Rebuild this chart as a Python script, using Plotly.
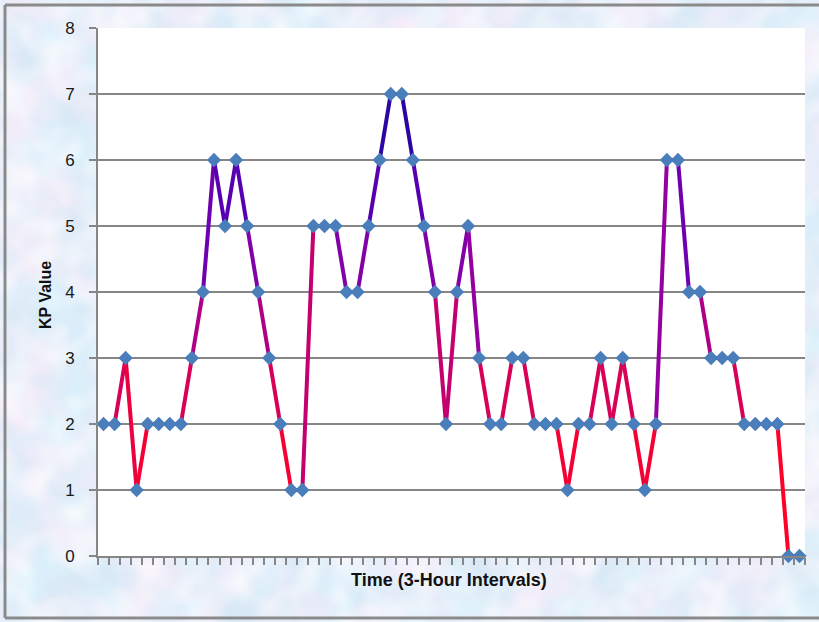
import plotly.graph_objects as go
from urllib.parse import quote

# ---- data ----
kp_values = [2, 2, 3, 1, 2, 2, 2, 2, 3, 4, 6, 5, 6, 5, 4, 3, 2, 1, 1, 5,
             5, 5, 4, 4, 5, 6, 7, 7, 6, 5, 4, 2, 4, 5, 3, 2, 2, 3, 3, 2,
             2, 2, 1, 2, 2, 3, 2, 3, 2, 1, 2, 6, 6, 4, 4, 3, 3, 3, 2, 2,
             2, 2, 0, 0]
time_index = list(range(len(kp_values)))
y_ticks = [0, 1, 2, 3, 4, 5, 6, 7, 8]
x_title = "Time (3-Hour Intervals)"
y_title = "KP Value"

# colour stops for the value-dependent line colour
stops = [(0, (255, 90, 0)), (1, (255, 0, 40)), (2, (236, 0, 64)),
         (3, (196, 0, 110)), (4, (150, 0, 160)), (5, (110, 0, 176)),
         (6, (64, 0, 180)), (7, (26, 10, 144)), (8, (20, 10, 120))]


def color_for(v):
    for (a, ca), (b, cb) in zip(stops[:-1], stops[1:]):
        if a <= v <= b:
            t = (v - a) / (b - a)
            c = [round(ca[k] + (cb[k] - ca[k]) * t) for k in range(3)]
            return f"rgb({c[0]},{c[1]},{c[2]})"
    return "rgb(20,10,120)"


W, H = 819, 622
L, R, T, B = 98, 14, 28, 66
PW, PH = W - L - R, H - T - B

# textured background (frosted glass look) with a white plot area
svg = f"""<svg xmlns='http://www.w3.org/2000/svg' width='{W}' height='{H}'>
<defs>
<filter id='n' x='0' y='0' width='100%' height='100%'>
<feTurbulence type='fractalNoise' baseFrequency='0.018' numOctaves='3' seed='7'/>
<feColorMatrix values='0 0 0 0 0.96  0 0 0 0 0.84  0 0 0 0 0.95  1.8 0 0 0 -0.62'/>
</filter>
<filter id='m' x='0' y='0' width='100%' height='100%'>
<feTurbulence type='fractalNoise' baseFrequency='0.022' numOctaves='2' seed='2'/>
<feColorMatrix values='0 0 0 0 0.72  0 0 0 0 0.9  0 0 0 0 0.98  0 1.8 0 0 -0.55'/>
</filter>
<filter id='w' x='0' y='0' width='100%' height='100%'>
<feTurbulence type='fractalNoise' baseFrequency='0.03' numOctaves='2' seed='11'/>
<feColorMatrix values='0 0 0 0 1  0 0 0 0 1  0 0 0 0 1  0 0 1.5 0 -0.6'/>
</filter>
</defs>
<rect width='{W}' height='{H}' fill='#d9e9f6'/>
<rect width='{W}' height='{H}' filter='url(#m)'/>
<rect width='{W}' height='{H}' filter='url(#n)'/>
<rect width='{W}' height='{H}' filter='url(#w)'/>
<rect x='{L}' y='{T}' width='{PW}' height='{PH}' fill='white'/>
<line x1='5' y1='5' x2='819' y2='5' stroke='#8a8a8a' stroke-width='3'/>
<line x1='5' y1='5' x2='5' y2='618' stroke='#8a8a8a' stroke-width='3'/>
<line x1='5' y1='618' x2='819' y2='618' stroke='#8a8a8a' stroke-width='3'/>
</svg>"""
bg_src = "data:image/svg+xml;charset=utf-8," + quote(svg)

fig = go.Figure()

# line segments, each coloured by its value level
for i in range(len(kp_values) - 1):
    seg_y = kp_values[i:i + 2]
    fig.add_trace(go.Scatter(
        x=time_index[i:i + 2], y=seg_y, mode="lines",
        line=dict(color=color_for(sum(seg_y) / 2), width=4),
        hoverinfo="skip", showlegend=False, cliponaxis=False))

fig.add_trace(go.Scatter(
    x=time_index, y=kp_values, mode="markers",
    marker=dict(symbol="diamond", size=11, color="#4a7ebb",
                line=dict(width=0)),
    showlegend=False, cliponaxis=False, name="KP"))

fig.update_layout(
    width=W, height=H,
    margin=dict(l=L, r=R, t=T, b=B),
    paper_bgcolor="#d9e9f6",
    plot_bgcolor="rgba(0,0,0,0)",
    showlegend=False,
    font=dict(family="Liberation Sans, Arial, sans-serif", color="#1a1a1a"),
    images=[dict(source=bg_src, xref="paper", yref="paper",
                 x=-L / PW, y=1 + T / PH, sizex=W / PW, sizey=H / PH,
                 xanchor="left", yanchor="top", sizing="stretch",
                 layer="below")],
    xaxis=dict(range=[-0.5, len(kp_values) - 0.5], tickmode="linear",
               tick0=-0.5, dtick=1, showticklabels=False,
               ticks="outside", ticklen=7, tickwidth=2, tickcolor="#868686",
               showline=True, linecolor="#868686", linewidth=2,
               showgrid=False, zeroline=False, fixedrange=True),
    yaxis=dict(range=[0, 8], tickvals=y_ticks, ticks="outside", ticklen=7,
               tickwidth=2, tickcolor="#868686",
               showline=True, linecolor="#868686", linewidth=2,
               showgrid=True, gridcolor="#868686", gridwidth=2,
               zeroline=False, ticklabelstandoff=11,
               tickfont=dict(size=17, color="#1a1a1a"), fixedrange=True),
    annotations=[
        dict(text=f"<b>{y_title}</b>", textangle=-90, xref="paper",
             yref="paper", x=(46 - L) / PW, y=(H - B - 295) / PH,
             xanchor="center", yanchor="middle",
             showarrow=False, font=dict(size=16, color="#111")),
        dict(text=f"<b>{x_title}</b>", xref="paper", yref="paper",
             x=(449 - L) / PW, y=-(580 - (H - B)) / PH,
             xanchor="center", yanchor="middle",
             showarrow=False, font=dict(size=18, color="#111")),
    ],
)

fig.write_html("out.html",
               config={"displayModeBar": False},
               post_script="document.body.style.margin='0';"
                           "document.body.style.padding='0';")
